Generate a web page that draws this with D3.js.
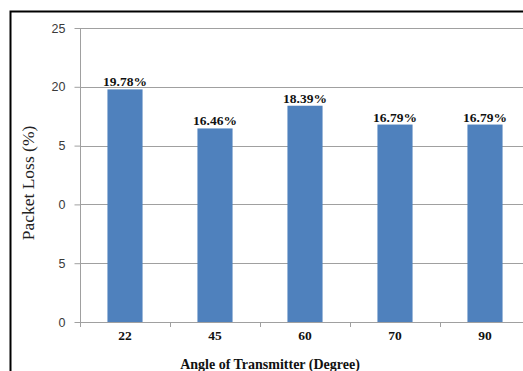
<!DOCTYPE html>
<html><head><meta charset="utf-8">
<script src="https://cdn.jsdelivr.net/npm/d3@7"></script>
<style>body{margin:0;background:#fff}svg{display:block}</style>
</head><body>
<svg id="c" width="523" height="371"></svg>
<script>
const categories = ["22","45","60","70","90"];
const values = [19.78,16.46,18.39,16.79,16.79];
const valueLabels = ["19.78%","16.46%","18.39%","16.79%","16.79%"];
const yTicks = [0,5,10,15,20,25];
const yTickLabels = ["0","5","0","5","20","25"];

const svg = d3.select("#c");
const mLeft = 80, mRight = 530, mTop = 28, mBottom = 322;

// chart border
svg.append("path").attr("d","M10.5,380 V11.5 H540").attr("fill","none").attr("stroke","#000").attr("stroke-width",2);

const x = d3.scaleBand().domain(categories).range([mLeft,mRight]).paddingInner(0.61).paddingOuter(0.305);
const y = d3.scaleLinear().domain([0,25]).range([mBottom,mTop]);

// gridlines
svg.append("g").selectAll("line").data(yTicks.filter(d=>d>0)).join("line")
  .attr("x1",mLeft).attr("x2",530).attr("y1",d=>Math.round(y(d))+0.5).attr("y2",d=>Math.round(y(d))+0.5)
  .attr("stroke","#a0a0a0").attr("stroke-width",1);

// y axis
const yAxis = svg.append("g").attr("transform",`translate(${mLeft+0.5},0)`)
  .call(d3.axisLeft(y).tickValues(yTicks).tickSize(6).tickPadding(9).tickFormat((d,i)=>yTickLabels[i]));
yAxis.select(".domain").attr("stroke","#a0a0a0").attr("d",`M0,${mTop}V${mBottom}`);
yAxis.selectAll(".tick line").attr("stroke","#a0a0a0");
yAxis.selectAll("text").attr("font-family","'Liberation Sans',Arial,sans-serif").attr("font-size",12.5).attr("fill","#3a3a3a");

// bars
svg.append("g").selectAll("rect").data(values).join("rect")
  .attr("x",(d,i)=>x(categories[i])).attr("width",x.bandwidth())
  .attr("y",d=>y(d)).attr("height",d=>mBottom-y(d))
  .attr("fill","#4f81bd");

// value labels
svg.append("g").selectAll("text").data(values).join("text")
  .attr("x",(d,i)=>x(categories[i])+x.bandwidth()/2).attr("y",d=>y(d)-3)
  .attr("text-anchor","middle").attr("font-family","'Liberation Serif','Times New Roman',serif")
  .attr("font-weight","bold").attr("font-size",13.5).attr("fill","#111")
  .text((d,i)=>valueLabels[i]);

// x axis
const xStep = x.step();
const boundaries = categories.map((c,i)=>mLeft + i*xStep);
svg.append("line").attr("x1",mLeft).attr("x2",530).attr("y1",mBottom+0.5).attr("y2",mBottom+0.5).attr("stroke","#a0a0a0");
svg.append("g").selectAll("line").data(boundaries).join("line")
  .attr("x1",d=>d+0.5).attr("x2",d=>d+0.5).attr("y1",mBottom).attr("y2",mBottom+5).attr("stroke","#a0a0a0");
svg.append("g").selectAll("text").data(categories).join("text")
  .attr("x",d=>x(d)+x.bandwidth()/2).attr("y",mBottom+18)
  .attr("text-anchor","middle").attr("font-family","'Liberation Serif','Times New Roman',serif")
  .attr("font-weight","bold").attr("font-size",13.5).attr("fill","#111").text(d=>d);

// axis titles
svg.append("text").attr("x",270).attr("y",369).attr("text-anchor","middle")
  .attr("font-family","'Liberation Serif','Times New Roman',serif").attr("font-weight","bold")
  .attr("font-size",14).attr("fill","#111").text("Angle of Transmitter (Degree)");
svg.append("text").attr("transform","translate(34,183) rotate(-90)").attr("text-anchor","middle")
  .attr("font-family","'Liberation Serif','Times New Roman',serif")
  .attr("font-size",17.5).attr("fill","#222").text("Packet Loss (%)");
</script>
</body></html>
